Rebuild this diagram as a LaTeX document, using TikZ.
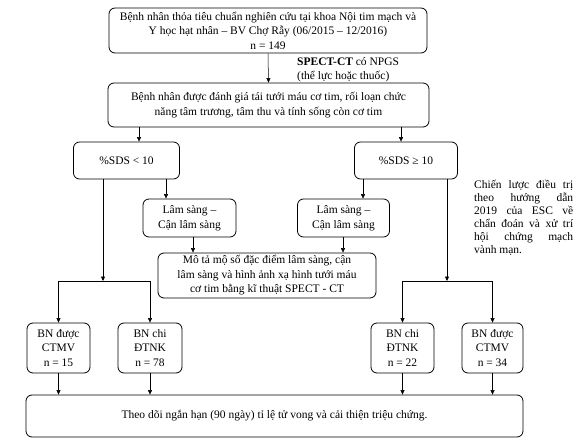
\documentclass[tikz,border=0pt]{standalone}
\usepackage{fontspec}
\setmainfont{Liberation Serif}
\usetikzlibrary{arrows.meta,calc}
\begin{document}
\begin{tikzpicture}[x=1pt,y=-1pt,
  box/.style={draw, rounded corners=6pt, line width=0.8pt, align=center, inner sep=0pt, font=\fontsize{11.5}{14.5}\selectfont},
  arr/.style={-{Triangle[length=4.5pt,width=4pt]}, line width=0.5pt},
  ln/.style={line width=0.5pt},
  txt/.style={inner sep=0pt, font=\fontsize{11.5}{14.5}\selectfont}]
\useasboundingbox (0,0) rectangle (582,444);
% boxes
\node[box, minimum width=318pt, minimum height=45pt] (b1) at (268,30.5)
  {Bệnh nhân thỏa tiêu chuẩn nghiên cứu tại khoa Nội tim mạch và\\Y học hạt nhân – BV Chợ Rẫy (06/2015 – 12/2016)\\n = 149};
\node[box, minimum width=321pt, minimum height=44pt] (b2) at (268.5,105)
  {Bệnh nhân được đánh giá tái tưới máu cơ tim, rối loạn chức\\năng tâm trương, tâm thu và tính sống còn cơ tim};
\node[txt, anchor=west, align=left] (lbl) at (297,69.5) {\textbf{SPECT-CT} có NPGS\\(thể lực hoặc thuốc)};
\node[box, minimum width=106pt, minimum height=37pt] (sdsL) at (126.5,160.5) {\%SDS < 10};
\node[box, minimum width=103pt, minimum height=37pt] (sdsR) at (406,160.5) {\%SDS ≥ 10};
\node[box, minimum width=93pt, minimum height=38pt] (lsL) at (189.5,218) {Lâm sàng –\\Cận lâm sàng};
\node[box, minimum width=92pt, minimum height=38pt] (lsR) at (343.5,218) {Lâm sàng –\\Cận lâm sàng};
\node[box, minimum width=218pt, minimum height=45pt] (mt) at (267,275.5)
  {Mô tả mộ số đặc điểm lâm sàng, cận\\lâm sàng và hình ảnh xạ hình tưới máu\\cơ tim bằng kĩ thuật SPECT - CT};
\node[box, minimum width=63pt, minimum height=50pt] (bn1) at (58.5,348) {BN được\\CTMV\\n = 15};
\node[box, minimum width=64pt, minimum height=50pt] (bn2) at (150,348) {BN chi\\ĐTNK\\n = 78};
\node[box, minimum width=63pt, minimum height=50pt] (bn3) at (402.5,348) {BN chi\\ĐTNK\\n = 22};
\node[box, minimum width=61pt, minimum height=50pt] (bn4) at (492.5,348) {BN được\\CTMV\\n = 34};
\node[box, minimum width=497pt, minimum height=42pt] (fu) at (274.5,416)
  {Theo dõi ngắn hạn (90 ngày) tỉ lệ tử vong và cải thiện triệu chứng.};
\node[inner sep=0pt, anchor=north west, align=left, font=\fontsize{11.5}{13}\selectfont] (note) at (474,179.5)
  {\makebox[99pt][s]{Chiến lược điều trị}\\\makebox[99pt][s]{theo hướng dẫn}\\\makebox[99pt][s]{2019 của ESC về}\\\makebox[99pt][s]{chẩn đoán và xử trí}\\\makebox[99pt][s]{hội chứng mạch}\\vành mạn.};
% helper coordinates
\coordinate (xa) at (139,0);
\coordinate (xb) at (401,0);
\coordinate (xc) at (166,0);
\coordinate (xd) at (363,0);
\coordinate (xe) at (193,0);
\coordinate (xf) at (343,0);
\coordinate (jL) at (103,281);
\coordinate (jR) at (447,281);
% connectors
\draw[arr] (b1.south) -- (b2.north);
\draw[arr] (b2.south -| xa) -- (sdsL.north -| xa);
\draw[arr] (b2.south -| xb) -- (sdsR.north -| xb);
\draw[arr] (sdsL.south -| xc) -- (lsL.north -| xc);
\draw[arr] (sdsR.south -| xd) -- (lsR.north -| xd);
\draw[arr] (lsL.south -| xe) -- (mt.north -| xe);
\draw[arr] (lsR.south -| xf) -- (mt.north -| xf);
\draw[arr] (sdsL.south -| jL) -- (jL);
\draw[arr] (sdsR.south -| jR) -- (jR);
\draw[ln] (bn1.north |- jL) -- (bn2.north |- jL);
\draw[ln] (bn3.north |- jR) -- (bn4.north |- jR);
\draw[arr] (bn1.north |- jL) -- (bn1.north);
\draw[arr] (bn2.north |- jL) -- (bn2.north);
\draw[arr] (bn3.north |- jR) -- (bn3.north);
\draw[arr] (bn4.north |- jR) -- (bn4.north);
\draw[arr] (bn1.south) -- (bn1.south |- fu.north);
\draw[arr] (bn2.south) -- (bn2.south |- fu.north);
\draw[arr] (bn3.south) -- (bn3.south |- fu.north);
\draw[arr] (bn4.south) -- (bn4.south |- fu.north);
\end{tikzpicture}
\end{document}
